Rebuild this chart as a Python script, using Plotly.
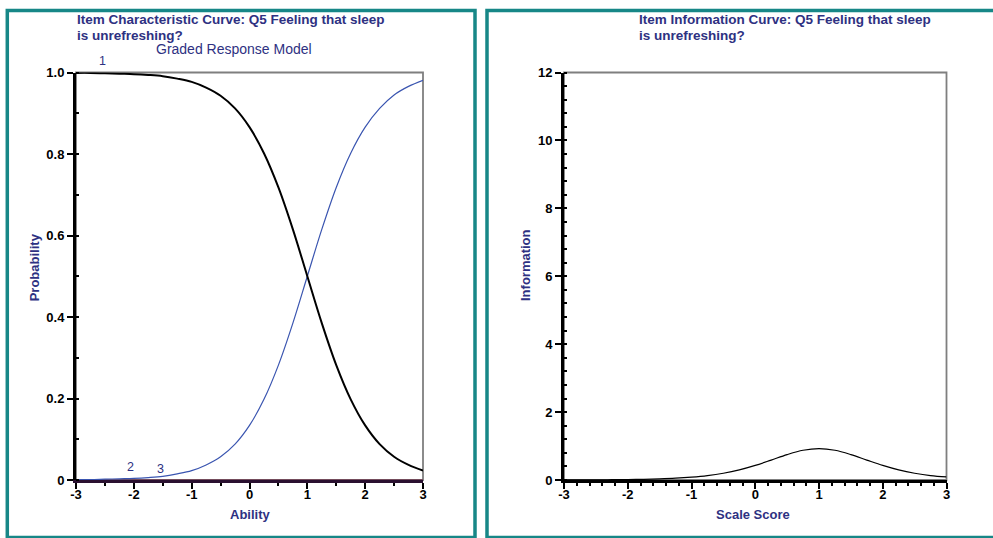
import plotly.graph_objects as go

W, H = 993, 538

theta = [-3.0, -2.75, -2.5, -2.25, -2.0, -1.75, -1.5, -1.25, -1.0, -0.75, -0.5, -0.25,
         0.0, 0.25, 0.5, 0.75, 1.0, 1.25, 1.5, 1.75, 2.0, 2.25, 2.5, 2.75, 3.0]

# Category 1 (black), category 2 (near zero), category 3 (blue) probabilities
prob_cat1 = [0.999, 0.999, 0.998, 0.997, 0.996, 0.994, 0.991, 0.985, 0.977, 0.963, 0.943, 0.912,
             0.866, 0.802, 0.718, 0.615, 0.500, 0.385, 0.282, 0.198, 0.134, 0.088, 0.057, 0.037, 0.023]
prob_cat2 = [0.000, 0.000, 0.000, 0.000, 0.000, 0.000, 0.000, 0.000, 0.000, 0.000, 0.000, 0.000,
             0.000, 0.000, 0.000, 0.000, 0.000, 0.000, 0.000, 0.000, 0.000, 0.000, 0.000, 0.000, 0.000]
prob_cat3 = [0.001, 0.001, 0.002, 0.003, 0.004, 0.006, 0.009, 0.015, 0.023, 0.037, 0.057, 0.088,
             0.134, 0.198, 0.282, 0.385, 0.500, 0.615, 0.718, 0.802, 0.866, 0.912, 0.945, 0.966, 0.981]

information = [0.002, 0.003, 0.005, 0.009, 0.014, 0.021, 0.034, 0.053, 0.084, 0.130, 0.199, 0.297,
               0.429, 0.587, 0.749, 0.876, 0.925, 0.876, 0.749, 0.587, 0.429, 0.297, 0.199, 0.130, 0.090]

x_ticks = [-3, -2, -1, 0, 1, 2, 3]
prob_ticks = [0, 0.2, 0.4, 0.6, 0.8, 1.0]
prob_ticklabels = ["0", "0.2", "0.4", "0.6", "0.8", "1.0"]
info_ticks = [0, 2, 4, 6, 8, 10, 12]

NAVY = "#2e3182"
BLUE = "#3a55b0"
TEAL = "#178787"
FONT = "Liberation Sans, Arial, sans-serif"


def px_x(p):
    return p / W


def px_y(p):
    return 1 - p / H


fig = go.Figure()

fig.add_trace(go.Scatter(x=theta, y=prob_cat2, mode="lines", line=dict(color="#6a1a3a", width=1.2),
                         line_shape="spline", xaxis="x", yaxis="y", showlegend=False, cliponaxis=False))
fig.add_trace(go.Scatter(x=theta, y=prob_cat3, mode="lines", line=dict(color=BLUE, width=1.2),
                         line_shape="spline", xaxis="x", yaxis="y", showlegend=False))
fig.add_trace(go.Scatter(x=theta, y=prob_cat1, mode="lines", line=dict(color="black", width=2),
                         line_shape="spline", xaxis="x", yaxis="y", showlegend=False))
fig.add_trace(go.Scatter(x=theta, y=information, mode="lines", line=dict(color="black", width=1.2),
                         line_shape="spline", xaxis="x2", yaxis="y2", showlegend=False))

ydom = [px_y(480), px_y(72.5)]
tickfont = dict(family=FONT, size=13, color="black")


def xaxis_cfg(domain, anchor, minor_dtick, linecolor):
    return dict(domain=domain, range=[-3, 3], tickvals=x_ticks,
                ticktext=["<b>%d</b>" % v for v in x_ticks], tickfont=tickfont,
                showgrid=False, zeroline=False, showline=True, linecolor=linecolor, linewidth=3,
                ticks="outside", ticklen=6, tickwidth=1.5, tickcolor="black",
                ticklabelstandoff=-6,
                minor=dict(dtick=minor_dtick, ticks="outside", ticklen=3, tickwidth=1.5,
                           tickcolor="black", showgrid=False),
                anchor=anchor, automargin=False, fixedrange=True)


def yaxis_cfg(rng, tickvals, ticktext, anchor, minor_dtick):
    return dict(domain=ydom, range=rng, tickvals=tickvals,
                ticktext=["<b>%s</b>" % t for t in ticktext], tickfont=tickfont,
                showgrid=False, zeroline=False, showline=True, linecolor="black", linewidth=3,
                ticks="outside", ticklen=6, tickwidth=1.5, tickcolor="black",
                minor=dict(dtick=minor_dtick, ticks="inside", ticklen=3, tickwidth=1.5,
                           tickcolor="black", showgrid=False),
                anchor=anchor, automargin=False, fixedrange=True)


fig.update_layout(
    width=W, height=H,
    margin=dict(l=0, r=0, t=0, b=0, pad=0, autoexpand=False),
    paper_bgcolor="white", plot_bgcolor="white",
    font=dict(family=FONT),
    showlegend=False,
    xaxis=xaxis_cfg([px_x(76), px_x(423)], "y", 0.5, "#2a1030"),
    yaxis=yaxis_cfg([0, 1], prob_ticks, prob_ticklabels, "x", 0.1),
    xaxis2=xaxis_cfg([px_x(564), px_x(946.5)], "y2", 0.2, "black"),
    yaxis2=yaxis_cfg([0, 12], info_ticks, [str(v) for v in info_ticks], "x2", 0.4),
)

shapes = []
# plot frames (top/right in grey)
for xr, yr in (("x domain", "y domain"), ("x2 domain", "y2 domain")):
    shapes.append(dict(type="rect", xref=xr, yref=yr, x0=0, x1=1, y0=0, y1=1,
                       line=dict(color="#7f7f7f", width=1.8), layer="below"))
# teal panel borders
shapes.append(dict(type="rect", xref="paper", yref="paper",
                   x0=px_x(7.3), x1=px_x(475), y0=px_y(537.5), y1=px_y(10.5),
                   line=dict(color=TEAL, width=3.5)))
shapes.append(dict(type="rect", xref="paper", yref="paper",
                   x0=px_x(487), x1=px_x(1010), y0=px_y(537.5), y1=px_y(10.5),
                   line=dict(color=TEAL, width=3.5)))
fig.update_layout(shapes=shapes)

titlefont = dict(family=FONT, size=13.5, color=NAVY)
axtitlefont = dict(family=FONT, size=13, color=NAVY)
labelfont = dict(family=FONT, size=12.5, color=NAVY)


def paper_text(text, x, y, font, xanchor="center", textangle=0):
    return dict(text=text, xref="paper", yref="paper", x=px_x(x), y=px_y(y),
                xanchor=xanchor, yanchor="middle", showarrow=False, font=font,
                textangle=textangle)


annotations = [
    paper_text("<b>Item Characteristic Curve: Q5 Feeling that sleep</b>", 75, 19.6, titlefont, "left"),
    paper_text("<b>is unrefreshing?</b>", 75, 35.0, titlefont, "left"),
    paper_text("Graded Response Model", 234, 49.5, dict(family=FONT, size=14, color=NAVY)),
    paper_text("<b>Item Information Curve: Q5 Feeling that sleep</b>", 637, 19.6, titlefont, "left"),
    paper_text("<b>is unrefreshing?</b>", 637, 35.0, titlefont, "left"),
    paper_text("<b>Ability</b>", 250.3, 514.5, axtitlefont),
    paper_text("<b>Scale Score</b>", 753.3, 514.5, axtitlefont),
    paper_text("<b>Probability</b>", 34.3, 267, axtitlefont, textangle=-90),
    paper_text("<b>Information</b>", 525, 265, axtitlefont, textangle=-90),
    dict(text="1", xref="x", yref="paper", x=-2.54, y=px_y(61.5), showarrow=False, yanchor="middle",
         font=labelfont),
    dict(text="2", xref="x", yref="y", x=-2.05, y=0.031, showarrow=False, yanchor="middle",
         font=labelfont),
    dict(text="3", xref="x", yref="y", x=-1.54, y=0.028, showarrow=False, yanchor="middle",
         font=labelfont),
]
fig.update_layout(annotations=annotations)

fig.write_html("out.html", config={"displayModeBar": False},
               post_script="document.body.style.margin='0px';document.body.style.overflow='hidden';")
